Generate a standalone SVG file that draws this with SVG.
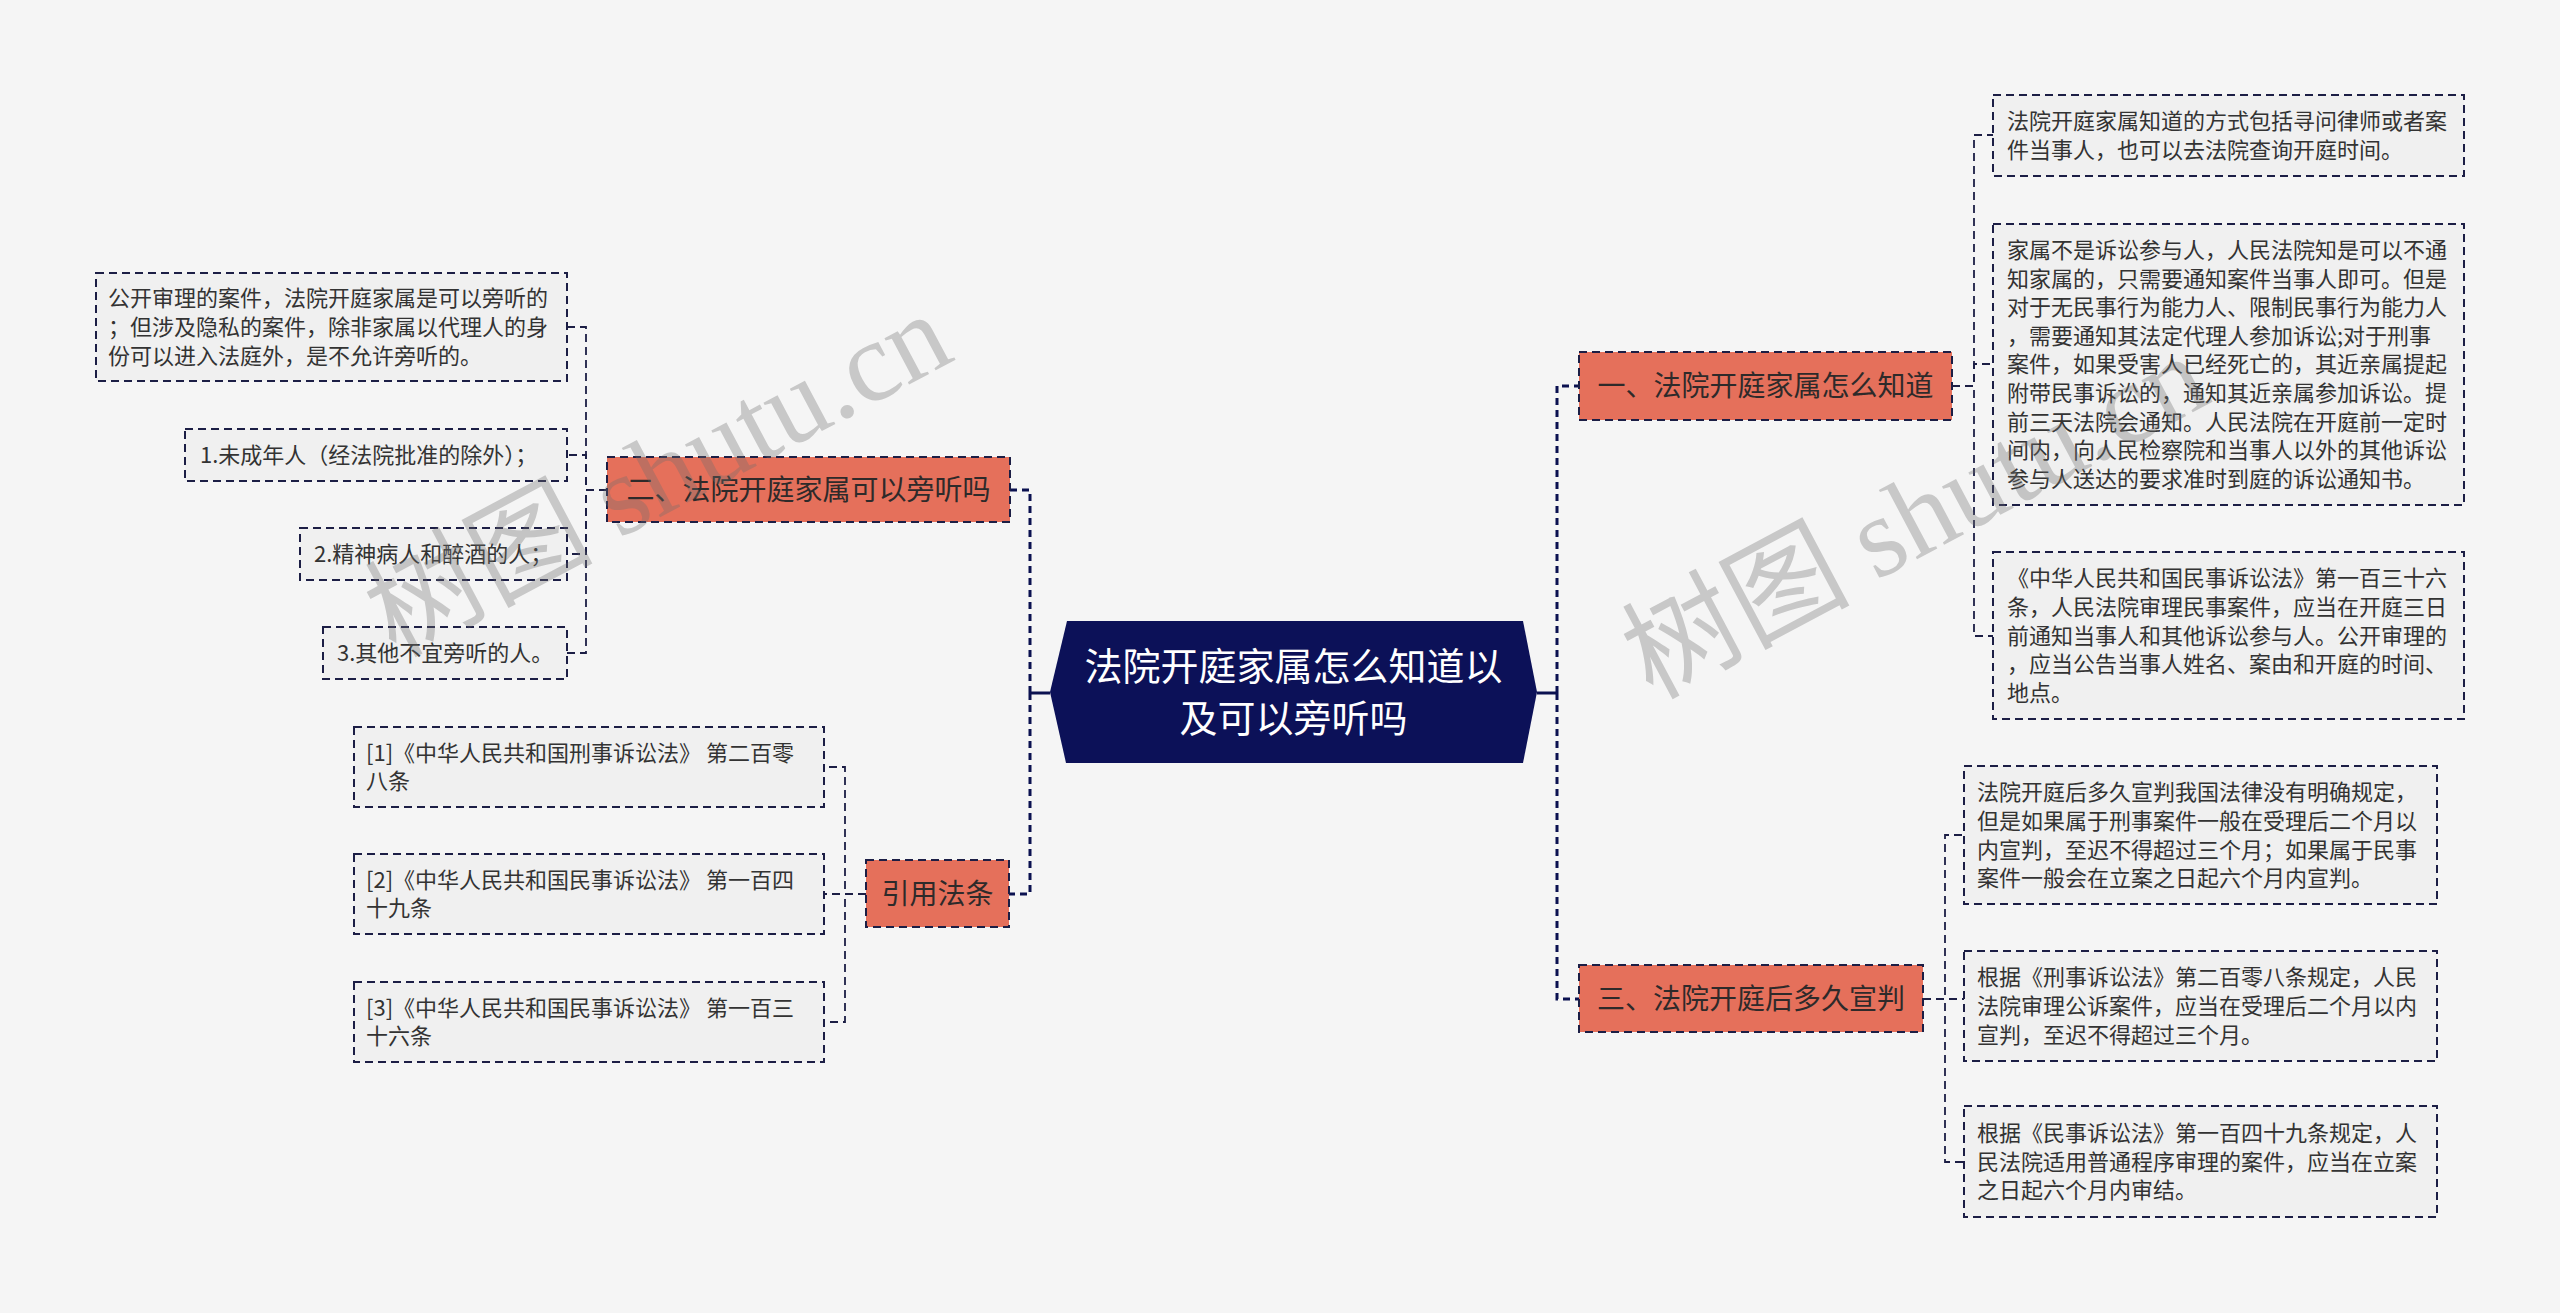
<svg xmlns="http://www.w3.org/2000/svg" width="2560" height="1313" viewBox="0 0 2560 1313">
<style>
text{font-family:"Noto Sans CJK SC","Liberation Sans",sans-serif;}
.leaf rect{fill:#f0f0f0;stroke:#1c1e45;stroke-width:2;stroke-dasharray:8 5;}
.leaf text{font-size:22px;fill:#333;}
.branch rect{fill:#e5705b;stroke:#1c1e45;stroke-width:2;stroke-dasharray:8 5;}
.branch text{font-size:28px;fill:#2e2a2a;text-anchor:middle;}
.trunk{fill:none;stroke:#0b1150;stroke-width:3;stroke-dasharray:7 5;}
.tip{fill:none;stroke:#0b1150;stroke-width:3;}
.link{fill:none;stroke:#1c1e45;stroke-width:1.8;stroke-dasharray:8 5;}
.wm{fill:#6e6e6e;opacity:0.33;font-size:114px;}
</style>
<rect width="2560" height="1313" fill="#f5f5f5"/>
<g id="connectors">
<path class="tip" d="M1050,693 H1030"/>
<path class="tip" d="M1537,693 H1557"/>
<path class="trunk" d="M1030,693 V490 H1010"/>
<path class="trunk" d="M1030,693 V894 H1009"/>
<path class="trunk" d="M1557,693 V386 H1579"/>
<path class="trunk" d="M1557,693 V999 H1579"/>
<path class="link" d="M607,490 H586 V327 H567"/>
<path class="link" d="M607,490 H586 V455 H567"/>
<path class="link" d="M607,490 H586 V554 H567"/>
<path class="link" d="M607,490 H586 V653 H567"/>
<path class="link" d="M866,894 H845 V767 H824"/>
<path class="link" d="M866,894 H824"/>
<path class="link" d="M866,894 H845 V1022 H824"/>
<path class="link" d="M1952,386 H1974 V135 H1993"/>
<path class="link" d="M1952,386 H1974 V364 H1993"/>
<path class="link" d="M1952,386 H1974 V636 H1993"/>
<path class="link" d="M1923,999 H1945 V835 H1964"/>
<path class="link" d="M1923,999 H1964"/>
<path class="link" d="M1923,999 H1945 V1162 H1964"/>
</g>
<g id="root">
<polygon points="1050,692 1067,621 1523,621 1537,692 1523,763 1066,763" fill="#0c1158"/>
<text x="1293.5" y="680" font-size="38" fill="#ffffff" text-anchor="middle">法院开庭家属怎么知道以</text>
<text x="1293.5" y="732" font-size="38" fill="#ffffff" text-anchor="middle">及可以旁听吗</text>
</g>
<g id="b2" class="branch"><rect x="607" y="457" width="403" height="65"/><text x="808.5" y="500">二、法院开庭家属可以旁听吗</text></g>
<g id="b4" class="branch"><rect x="866" y="860" width="143" height="67"/><text x="937.5" y="904">引用法条</text></g>
<g id="b1" class="branch"><rect x="1579" y="352" width="373" height="68"/><text x="1765.5" y="396">一、法院开庭家属怎么知道</text></g>
<g id="b3" class="branch"><rect x="1579" y="965" width="344" height="67"/><text x="1751" y="1009">三、法院开庭后多久宣判</text></g>
<g id="l2a" class="leaf"><rect x="96" y="273" width="471" height="108"/><text><tspan x="108" y="306">公开审理的案件，法院开庭家属是可以旁听的</tspan><tspan x="108" y="335">；但涉及隐私的案件，除非家属以代理人的身</tspan><tspan x="108" y="364">份可以进入法庭外，是不允许旁听的。</tspan></text></g>
<g id="l2b" class="leaf"><rect x="185" y="429" width="382" height="52"/><text x="200" y="463">1.未成年人（经法院批准的除外）；</text></g>
<g id="l2c" class="leaf"><rect x="300" y="528" width="267" height="52"/><text x="314" y="562">2.精神病人和醉酒的人；</text></g>
<g id="l2d" class="leaf"><rect x="323" y="627" width="244" height="52"/><text x="337" y="661">3.其他不宜旁听的人。</text></g>
<g id="l4a" class="leaf"><rect x="354" y="727" width="470" height="80"/><text><tspan x="366" y="761">[1]《中华人民共和国刑事诉讼法》 第二百零</tspan><tspan x="366" y="789">八条</tspan></text></g>
<g id="l4b" class="leaf"><rect x="354" y="854" width="470" height="80"/><text><tspan x="366" y="888">[2]《中华人民共和国民事诉讼法》 第一百四</tspan><tspan x="366" y="916">十九条</tspan></text></g>
<g id="l4c" class="leaf"><rect x="354" y="982" width="470" height="80"/><text><tspan x="366" y="1016">[3]《中华人民共和国民事诉讼法》 第一百三</tspan><tspan x="366" y="1044">十六条</tspan></text></g>
<g id="l1a" class="leaf"><rect x="1993" y="95" width="471" height="81"/><text><tspan x="2007" y="129">法院开庭家属知道的方式包括寻问律师或者案</tspan><tspan x="2007" y="158">件当事人，也可以去法院查询开庭时间。</tspan></text></g>
<g id="l1b" class="leaf"><rect x="1993" y="224" width="471" height="281"/><text><tspan x="2007" y="258">家属不是诉讼参与人，人民法院知是可以不通</tspan><tspan x="2007" y="287">知家属的，只需要通知案件当事人即可。但是</tspan><tspan x="2007" y="315">对于无民事行为能力人、限制民事行为能力人</tspan><tspan x="2007" y="344">，需要通知其法定代理人参加诉讼;对于刑事</tspan><tspan x="2007" y="372">案件，如果受害人已经死亡的，其近亲属提起</tspan><tspan x="2007" y="401">附带民事诉讼的，通知其近亲属参加诉讼。提</tspan><tspan x="2007" y="430">前三天法院会通知。人民法院在开庭前一定时</tspan><tspan x="2007" y="458">间内，向人民检察院和当事人以外的其他诉讼</tspan><tspan x="2007" y="487">参与人送达的要求准时到庭的诉讼通知书。</tspan></text></g>
<g id="l1c" class="leaf"><rect x="1993" y="552" width="471" height="167"/><text><tspan x="2007" y="586">《中华人民共和国民事诉讼法》第一百三十六</tspan><tspan x="2007" y="615">条，人民法院审理民事案件，应当在开庭三日</tspan><tspan x="2007" y="644">前通知当事人和其他诉讼参与人。公开审理的</tspan><tspan x="2007" y="672">，应当公告当事人姓名、案由和开庭的时间、</tspan><tspan x="2007" y="701">地点。</tspan></text></g>
<g id="l3a" class="leaf"><rect x="1964" y="766" width="473" height="138"/><text><tspan x="1977" y="800">法院开庭后多久宣判我国法律没有明确规定，</tspan><tspan x="1977" y="829">但是如果属于刑事案件一般在受理后二个月以</tspan><tspan x="1977" y="858">内宣判，至迟不得超过三个月；如果属于民事</tspan><tspan x="1977" y="886">案件一般会在立案之日起六个月内宣判。</tspan></text></g>
<g id="l3b" class="leaf"><rect x="1964" y="951" width="473" height="110"/><text><tspan x="1977" y="985">根据《刑事诉讼法》第二百零八条规定，人民</tspan><tspan x="1977" y="1014">法院审理公诉案件，应当在受理后二个月以内</tspan><tspan x="1977" y="1043">宣判，至迟不得超过三个月。</tspan></text></g>
<g id="l3c" class="leaf"><rect x="1964" y="1106" width="473" height="111"/><text><tspan x="1977" y="1141">根据《民事诉讼法》第一百四十九条规定，人</tspan><tspan x="1977" y="1170">民法院适用普通程序审理的案件，应当在立案</tspan><tspan x="1977" y="1198">之日起六个月内审结。</tspan></text></g>
<g id="watermarks">
<text class="wm" transform="translate(395,658) rotate(-28)">树图 <tspan font-family="Liberation Serif">shutu.cn</tspan></text>
<text class="wm" transform="translate(1652,700) rotate(-28)">树图 <tspan font-family="Liberation Serif">shutu.cn</tspan></text>
</g>
</svg>
